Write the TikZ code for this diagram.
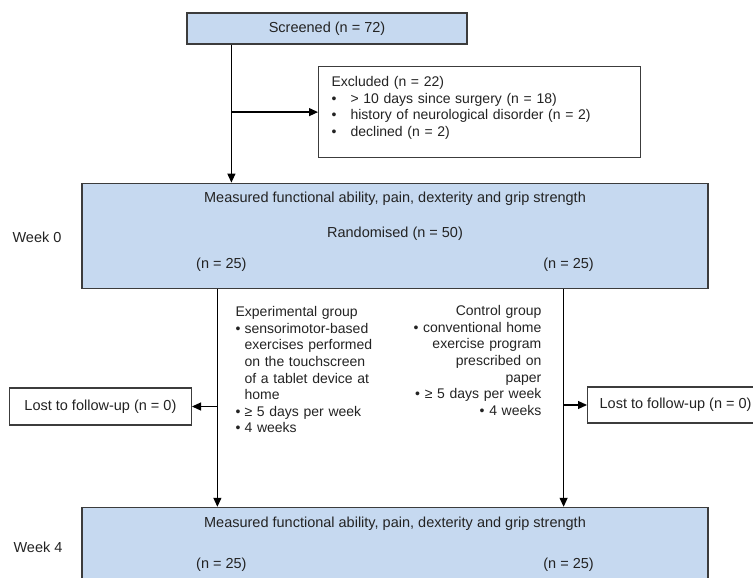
\documentclass[tikz,border=0pt]{standalone}
\usepackage{fontspec}
\setmainfont{Liberation Sans}
\usepackage{tikz}
\usetikzlibrary{arrows.meta, positioning}
\definecolor{boxblue}{RGB}{198,217,240}
\definecolor{edgegray}{RGB}{60,60,60}
\definecolor{inkgray}{RGB}{35,35,35}
\tikzstyle{block}=[draw=edgegray,fill=boxblue,rectangle,line width=1.2pt]
\tikzstyle{whiteblock}=[draw=edgegray,fill=white,rectangle,line width=1.2pt]
\tikzstyle{every node}=[font=\fontsize{14}{16.6}\selectfont,text=inkgray]
\tikzstyle{wide}=[font=\fontsize{14.5}{16.6}\selectfont]
\newcommand{\bul}{\makebox[9pt][l]{\textbullet}}
\newcommand{\hang}{\hspace*{9pt}}
\newcommand{\exbul}{\makebox[19pt][l]{\textbullet}}

\begin{document}
\begin{tikzpicture}[x=1pt,y=-1pt,>={Triangle[length=9pt,width=8pt]},line width=1.2pt]
  \useasboundingbox (0,0) rectangle (753,578);
  \clip (0,0) rectangle (753,578);
  \node[block, wide, minimum width=280pt, minimum height=31pt] (screened) at (327,28.5) {Screened (n = 72)};
  \node[whiteblock, anchor=north west, text width=296pt, align=left, inner xsep=13pt, inner ysep=5pt,
        text height=15pt, text depth=66pt] (excluded) at (318,66)
        {Excluded (n = 22)\\ \exbul > 10 days since surgery (n = 18)\\ \exbul history of neurological disorder (n = 2)\\ \exbul declined (n = 2)};
  \node[block, below=138pt of screened, xshift=68pt, minimum width=626pt, minimum height=105pt] (week0) {};
  \node[wide, anchor=base] (meas0) at ([yshift=-20pt]week0.north) {Measured functional ability, pain, dexterity and grip strength};
  \node[wide, anchor=base] (rand0) at ([yshift=-55pt]week0.north) {Randomised (n = 50)};
  \node[wide, anchor=base] (nexp0) at ([xshift=140pt,yshift=-86pt]week0.north west) {(n = 25)};
  \node[wide, anchor=base] (nctl0) at ([xshift=-140pt,yshift=-86pt]week0.north east) {(n = 25)};
  \node[wide, anchor=base] (wk0) at (37,242) {Week 0};
  \node[block, below=218pt of week0, minimum width=626pt, minimum height=90pt] (week4) {};
  \node[wide, anchor=base] (meas4) at ([yshift=-21pt]week4.north) {Measured functional ability, pain, dexterity and grip strength};
  \node[wide, anchor=base] (nexp4) at ([xshift=140pt,yshift=-62pt]week4.north west) {(n = 25)};
  \node[wide, anchor=base] (nctl4) at ([xshift=-140pt,yshift=-62pt]week4.north east) {(n = 25)};
  \node[wide, anchor=base] (wk4) at (38,552) {Week 4};
  % group texts
  \node[anchor=north west, text width=150pt, align=left, inner sep=0pt, text height=10pt] (exptext) at (235,306)
        {Experimental group\\ \bul sensorimotor-based\\ \hang exercises performed\\ \hang on the touchscreen\\ \hang of a tablet device at\\ \hang home\\ \bul ≥ 5 days per week\\ \bul 4 weeks};
  \node[anchor=north east, text width=140pt, align=right, inner sep=0pt, text height=10pt] (ctltext) at (542,305)
        {Control group\hspace*{4pt}\\ \textbullet\ conventional home\\ exercise program\\ prescribed on\\ paper\\ \textbullet\ ≥ 5 days per week\\ \textbullet\ 4 weeks};
  \node[whiteblock, wide, anchor=east, minimum width=182pt, minimum height=37pt] (lostexp) at (192,406.5) {Lost to follow-up (n = 0)};
  \node[whiteblock, wide, anchor=west, minimum width=176pt, minimum height=36pt] (lostctl) at (587,405) {Lost to follow-up (n = 0)};
  % connectors
  \coordinate (scr) at ([xshift=45pt]screened.south west);
  \coordinate (expline) at ([xshift=136pt]week0.south west);
  \coordinate (ctlline) at ([xshift=-145pt]week0.south east);
  \draw[->] (scr) -- (scr |- week0.north);
  \draw[->] (scr |- excluded.west) -- (excluded.west);
  \draw[->] (expline) -- (expline |- week4.north);
  \draw[->] (expline |- lostexp.east) -- (lostexp.east);
  \draw[->] (ctlline) -- (ctlline |- week4.north);
  \draw[->] (ctlline |- lostctl.west) -- (lostctl.west);
\end{tikzpicture}
\end{document}
